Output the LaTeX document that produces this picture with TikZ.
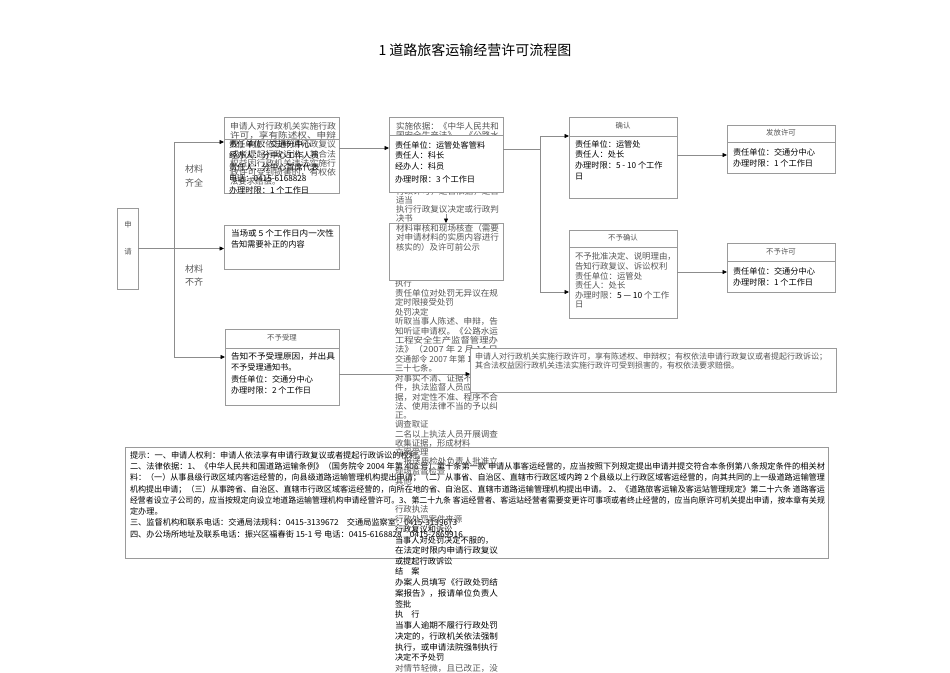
\documentclass[tikz,border=0pt]{standalone}
\usepackage{fontspec}
\setmainfont{Noto Sans CJK SC}
\usetikzlibrary{arrows.meta}
\definecolor{bline}{HTML}{9A9A9A}
\definecolor{cline}{HTML}{8C8C8C}
\definecolor{gtext}{HTML}{555555}
\newcommand\JL[2]{\resizebox{#1pt}{\height}{#2}}
\tikzset{
 bx/.style={draw=bline, line width=0.7pt, fill=white, inner sep=0pt, outer sep=0pt, anchor=north west},
 ln/.style={anchor=base west, inner sep=0pt, outer sep=0pt, yshift=-3pt, font=\fontsize{8.2}{10}\selectfont},
 gl/.style={anchor=base west, inner sep=0pt, outer sep=0pt, yshift=-3pt, text=gtext, font=\fontsize{8.4}{10}\selectfont},
 rl/.style={anchor=base west, inner sep=0pt, outer sep=0pt, yshift=-3pt, text=gtext, font=\fontsize{8}{10}\selectfont},
 hd/.style={inner sep=0pt, text=gtext, font=\fontsize{7.4}{9}\selectfont},
 lb/.style={inner sep=0pt, text=gtext, font=\fontsize{9}{11}\selectfont},
 con/.style={draw=cline, line width=0.7pt},
 arr/.style={draw=cline, line width=0.7pt, -{Triangle[length=4.5pt,width=4pt,color=black]}},
}
\begin{document}
\begin{tikzpicture}[x=1pt,y=-1pt]
\fill[white] (0,0) rectangle (950,672);
\useasboundingbox (0,0) rectangle (950,672);

% title
\node[inner sep=0pt, font=\fontsize{14}{16}\selectfont] (title) at (475,50) {1 道路旅客运输经营许可流程图};

% ---------- tips box ----------
\node[draw=bline, line width=0.7pt, inner sep=0pt, anchor=north west, minimum width=703pt, minimum height=111pt] (T) at (125,447) {};
\node[ln] (t1) at (130,455) {提示：一、申请人权利：申请人依法享有申请行政复议或者提起行政诉讼的权利。};
\node[ln] (t2) at (130,466) {\JL{695}{二、法律依据：1、《中华人民共和国道路运输条例》（国务院令 2004 年第 406 号）第十条第一款 申请从事客运经营的，应当按照下列规定提出申请并提交符合本条例第八条规定条件的相关材}};
\node[ln] (t3) at (130,477) {\JL{695}{料：（一）从事县级行政区域内客运经营的，向县级道路运输管理机构提出申请；（二）从事省、自治区、直辖市行政区域内跨 2 个县级以上行政区域客运经营的，向其共同的上一级道路运输管理}};
\node[ln] (t4) at (130,489) {\JL{695}{机构提出申请；（三）从事跨省、自治区、直辖市行政区域客运经营的，向所在地的省、自治区、直辖市道路运输管理机构提出申请。 2、《道路旅客运输及客运站管理规定》第二十六条 道路客运}};
\node[ln] (t5) at (130,500) {\JL{695}{经营者设立子公司的，应当按规定向设立地道路运输管理机构申请经营许可。3、第二十九条 客运经营者、客运站经营者需要变更许可事项或者终止经营的，应当向原许可机关提出申请，按本章有关规}};
\node[ln] (t6) at (130,511) {定办理。};
\node[ln] (t7) at (130,522) {三、监督机构和联系电话：交通局法规科：0415-3139672\quad 交通局监察室：0415-3139673};
\node[ln] (t8) at (130,534) {四、办公场所地址及联系电话：振兴区福春街 15-1 号 电话：0415-6168828\quad 0415-2869916};

% ---------- overflowing column ----------
\foreach \yy/\tx in {
283/{执行},
293/{\JL{103}{责任单位对处罚无异议在规}},
302/{定时限接受处罚},
312/{处罚决定},
321/{\JL{103}{听取当事人陈述、申辩，告}},
331/{\JL{103}{知听证申请权。《公路水运}},
340/{\JL{103}{工程安全生产监督管理办}},
349/{\JL{103}{法》（2007 年 2 月 14 日}},
359/{\JL{103}{交通部令 2007 年第 1 号）第}},
368/{三十七条。},
378/{\JL{103}{对事实不清、证据不足的案}},
387/{\JL{103}{件，执法监督人员应依法补}},
397/{\JL{103}{据，对定性不准、程序不合}},
406/{\JL{103}{法、使用法律不当的予以纠}},
415/{正。},
424/{调查取证},
434/{\JL{103}{二名以上执法人员开展调查}},
443/{收集证据，形成材料},
452/{立案受理},
461/{\JL{103}{，报送质检处负责人批准立}},
471/{现场监督检查},
481/{其他},
509/{行政执法},
519/{行政处罚案件来源},
668/{\JL{103}{对情节轻微，且已改正，没}},
678/{\JL{103}{有造成危害后果的，制作并}}}
{\node[gl] at (395,\yy) {\tx};}
\foreach \yy/\tx in {
529/{行政复议和诉讼},
540/{当事人对处罚决定不服的，},
550/{\JL{103}{在法定时限内申请行政复议}},
561/{或提起行政诉讼},
571/{结　案},
582/{\JL{103}{办案人员填写《行政处罚结}},
593/{\JL{103}{案报告》，报请单位负责人}},
604/{签批},
614/{执　行},
625/{\JL{103}{当事人逾期不履行行政处罚}},
636/{\JL{103}{决定的，行政机关依法强制}},
647/{\JL{103}{执行，或申请法院强制执行}},
657/{决定不予处罚}}
{\node[ln] at (395,\yy) {\tx};}

% ---------- apply box ----------
\node[bx, minimum width=21pt, minimum height=81pt] (shen) at (117,208) {};
\node[hd] (s1) at (128,225) {申};
\node[hd] (s2) at (128,252) {请};

\node[lb] (m1) at (194,169) {材料};
\node[lb] (m2) at (194,183) {齐全};
\node[lb] (m3) at (194,269) {材料};
\node[lb] (m4) at (194,282) {不齐};

% ---------- box A (accept) ----------
\node[bx, minimum width=115pt, minimum height=76pt] (A) at (224,117) {};
\foreach \yy/\tx in {
126/{\JL{106}{申请人对行政机关实施行政}},
135/{\JL{106}{许可，享有陈述权、申辩}},
144/{\JL{106}{权；有权依法申请行政复议}},
154/{\JL{106}{或者提起行政诉讼；其合法}},
163/{\JL{106}{权益因行政机关违法实施行}},
172/{\JL{106}{政许可受到损害的，有权依}},
181/{法要求赔偿。}}
{\node[gl] at (230,\yy) {\tx};}
\draw[draw=bline, line width=0.7pt] (A.north west |- 0,139) -- (A.north east |- 0,139);
\foreach \yy/\tx in {
144/{责任单位：交通分中心},
155/{经办人：分中心工作人员},
167/{责任人：分中心首席代表},
178/{电话：0415-6168828},
190/{办理时限：1 个工作日}}
{\node[ln] at (229,\yy) {\tx};}

% ---------- box D ----------
\node[bx, minimum width=115pt, minimum height=44pt] (D) at (224,225) {};
\node[ln] (d1) at (231,233) {\JL{103}{当场或 5 个工作日内一次性}};
\node[ln] (d2) at (231,244) {告知需要补正的内容};

% ---------- box N (reject) ----------
\node[bx, minimum width=114pt, minimum height=76pt] (N) at (225,329) {};
\draw[draw=bline, line width=0.7pt] (N.north west |- 0,348) -- (N.north east |- 0,348);
\node[hd] (nh) at (282,338) {不予受理};
\node[ln] (n1) at (231,356) {\JL{104}{告知不予受理原因，并出具}};
\node[ln] (n2) at (231,367) {不予受理通知书。};
\node[ln] (n3) at (231,379) {责任单位：交通分中心};
\node[ln] (n4) at (231,390) {办理时限：2 个工作日};

% ---------- box B ----------
\node[bx, minimum width=114pt, minimum height=75pt] (B) at (389,117) {};
\foreach \yy/\tx in {
126/{\JL{103}{实施依据：《中华人民共和}},
135/{\JL{103}{国安全生产法》、《公路水}},
191/{\JL{103}{行政许可，是否依据，是否}},
200/{适当},
209/{\JL{103}{执行行政复议决定或行政判}},
218/{决书}}
{\node[gl] at (396,\yy) {\tx};}
\fill[white, draw=bline, line width=0.7pt] (389,135) rectangle (503,192);
\node[ln] (b1) at (395,145) {责任单位：运管处客管料};
\node[ln] (b2) at (395,155) {责任人：科长};
\node[ln] (b3) at (395,166) {经办人：科员};
\node[ln] (b4) at (395,179) {办理时限：3 个工作日};

% ---------- box C ----------
\node[bx, minimum width=114pt, minimum height=57pt] (C) at (389,223) {};
\node[gl] (c1) at (396,228) {\JL{103}{材料审核和现场核查（需要}};
\node[gl] (c2) at (396,237) {\JL{103}{对申请材料的实质内容进行}};
\node[gl] (c3) at (396,247) {核实的）及许可前公示};

% ---------- confirm ----------
\node[bx, minimum width=108pt, minimum height=81pt] (C1) at (569,117) {};
\draw[draw=bline, line width=0.7pt] (C1.north west |- 0,136) -- (C1.north east |- 0,136);
\node[hd] (c1h) at (623,126) {确认};
\node[ln] (k1) at (575,144) {责任单位：运管处};
\node[ln] (k2) at (575,154) {责任人：处长};
\node[ln] (k3) at (575,165) {办理时限：5 - 10 个工作};
\node[ln] (k4) at (575,176) {日};

\node[bx, minimum width=108pt, minimum height=88pt] (C2) at (569,230) {};
\draw[draw=bline, line width=0.7pt] (C2.north west |- 0,247) -- (C2.north east |- 0,247);
\node[hd] (c2h) at (623,238) {不予确认};
\node[gl] (q1) at (575,256) {不予批准决定、说明理由，};
\node[gl] (q2) at (575,266) {告知行政复议、诉讼权利};
\node[gl] (q3) at (575,276) {责任单位：运管处};
\node[gl] (q4) at (575,285) {责任人：处长};
\node[gl] (q5) at (575,295) {办理时限：\textcolor{black}{5 — 10} 个工作};
\node[gl] (q6) at (575,304) {日};

% ---------- permit ----------
\node[bx, minimum width=108pt, minimum height=48pt] (F1) at (727,125) {};
\draw[draw=bline, line width=0.7pt] (F1.north west |- 0,142) -- (F1.north east |- 0,142);
\node[hd] (f1h) at (781,133) {发放许可};
\node[ln] (f11) at (733,152) {责任单位：交通分中心};
\node[ln] (f12) at (733,163) {办理时限：1 个工作日};

\node[bx, minimum width=108pt, minimum height=49pt] (F2) at (727,243) {};
\draw[draw=bline, line width=0.7pt] (F2.north west |- 0,261) -- (F2.north east |- 0,261);
\node[hd] (f2h) at (781,252) {不予许可};
\node[ln] (f21) at (733,271) {责任单位：交通分中心};
\node[ln] (f22) at (733,282) {办理时限：1 个工作日};

% ---------- rights box ----------
\node[bx, minimum width=366pt, minimum height=44pt] (R) at (470,348) {};
\node[rl] (r1) at (475,356) {申请人对行政机关实施行政许可，享有陈述权、申辩权；有权依法申请行政复议或者提起行政诉讼；};
\node[rl] (r2) at (475,365) {其合法权益因行政机关违法实施行政许可受到损害的，有权依法要求赔偿。};

% ---------- connectors ----------
\coordinate (jA) at (174,142);
\coordinate (jN) at (174,357);
\coordinate (jAB) at (339,148);
\coordinate (jB) at (540,149);
\coordinate (jC1) at (540,136);
\coordinate (jC2) at (540,292);
\coordinate (y155) at (700,155);
\coordinate (y272) at (700,272);
\coordinate (y374) at (400,374);
\coordinate (bc) at (446,214);

\draw[con] (jA) -- (jN);
\draw[arr] (jA) -- (jA -| A.west);
\draw[arr] (jN) -- (jN -| N.west);
\draw[arr] (shen.east) -- (shen.east -| D.west);
\draw[arr] (A.east |- jAB) -- (jAB -| B.west);
\draw[con] (B.east |- jB) -- (jB);
\draw[con] (jC1) -- (jC2);
\draw[arr] (jC1) -- (jC1 -| C1.west);
\draw[arr] (jC2) -- (jC2 -| C2.west);
\draw[arr] (C1.east |- y155) -- (y155 -| F1.west);
\draw[arr] (C2.east |- y272) -- (y272 -| F2.west);
\draw[arr] (N.east |- y374) -- (y374 -| R.west);
\draw[arr] (bc) -- (C.north);
\end{tikzpicture}
\end{document}
